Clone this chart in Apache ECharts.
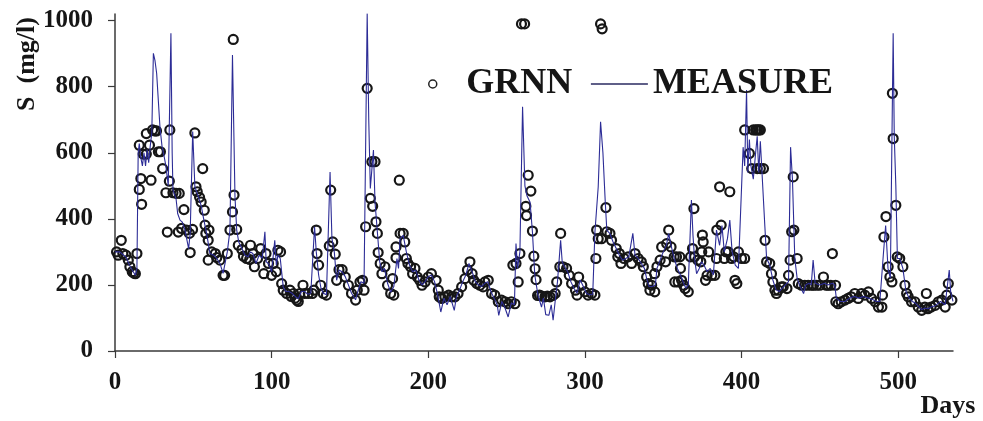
<!DOCTYPE html>
<html>
<head>
<meta charset="utf-8">
<script src="https://cdn.jsdelivr.net/npm/echarts@6/dist/echarts.min.js"></script>
<style>
  html, body { margin: 0; padding: 0; background: #fff; }
  #chart { width: 983px; height: 421px; }
</style>
</head>
<body>
<div id="chart"></div>
<script>
// Tick values shown on each axis
const xTicks = [0, 100, 200, 300, 400, 500];
const yTicks = [0, 200, 400, 600, 800, 1000];

// GRNN predictions: [day, S (mg/l)]
const grnn = [
  [1,300],[2,290],[4,335],[5,295],[7,290],[8.5,275],[9.5,255],[11,240],[12,236],[13,234],[14,295],
  [15.5,489],[15.5,623],[16.5,522],[17,444],[18,596],[20,596],[20,658],[22,623],[23,517],[24,669],
  [25.5,666],[26.5,666],[27.7,603],[29,603],[30.4,552],[32.5,479],[33.4,360],[34.7,514],[35,669],
  [37,479],[39,477],[40.4,360],[41,477],[42.5,371],[44,428],[45.7,366],[47.5,356],[48,298],[49.5,368],
  [51,660],[51.7,497],[52.5,482],[54,465],[55,451],[56,552],[57,426],[57.5,381],[58,356],[59.5,275],
  [59.5,335],[60,366],[61.7,300],[64,295],[65,283],[67,275],[69,229],[70,229],[71.7,295],[73.4,366],
  [75,421],[75.5,943],[76,472],[77.7,368],[78.7,320],[81,307],[82,287],[84,280],[86,277],
  [86.5,320],[88,295],[89,255],[91,280],[93,310],[95,234],[96.4,295],[98,265],[100,229],[101,265],
  [103,240],[104,305],[105.7,300],[106.4,204],[107.4,184],[109.6,174],[111.7,184],[112.5,165],[114,174],
  [115,160],[116,154],[117,150],[118,174],[120,199],[121,174],[123.4,174],[126,174],[127,184],[128.5,366],
  [129,295],[130,260],[131.3,199],[133,174],[135,169],[136.8,318],[137.7,487],[139,330],[140.6,293],
  [141.5,214],[143,246],[145,246],[147,224],[149,199],[151,174],[153.6,154],[154.7,184],[156.4,209],
  [158,214],[159,184],[160,376],[161,795],[163,462],[164,573],[164.5,438],[166,573],[166.6,391],
  [167.5,356],[168,298],[169.3,265],[170.4,234],[172.3,255],[174,199],[176,174],
  [177.2,219],[178,169],[179.4,315],[179.4,282],[181.5,517],[182,356],[184,356],[185,330],[186,280],
  [187,265],[188.7,255],[190,234],[191.5,250],[193,224],[194.5,214],[196,199],[198,209],[200,224],
  [202,234],[205,214],[206.4,184],[207,164],[208.5,159],[210.6,164],[213,169],[215,164],[217,164],
  [219,174],[221.3,194],[223.4,219],[225,245],[226.6,270],[228,234],[229,214],[231,204],[233,199],
  [235,194],[236.2,209],[238.3,214],[240.4,174],[242.5,169],[244.7,149],[246.8,154],[249,149],
  [251,143],[253,149],[254,260],[255.3,143],[256,265],[257.4,209],[258.5,295],[259.5,990],[261.5,990],
  [262.3,438],[262.7,410],[263.8,532],[265.5,484],[266.5,363],[267.4,287],[268.2,249],[268.8,216],
  [269.8,168],[271,169],[272.5,166],[274.5,164],[276,166],[277.7,164],[279.5,168],[281,174],[282,209],
  [284,255],[284.5,356],[286,255],[288.3,250],[290,229],[291.5,204],[294,184],[295,169],[296,224],
  [298,199],[300,179],[302,169],[304.3,174],[306.4,169],[307,280],[307.5,366],[308.5,340],[310,990],
  [311,975],[310.6,340],[313.4,434],[314,361],[316,356],[317,335],[320,310],[321,285],[322,295],
  [323,265],[325,280],[327.6,285],[329.8,265],[332,295],[334,280],[336,270],[337.3,255],[339.4,224],
  [340.4,204],[341.5,184],[342.6,199],[344.6,179],[344.5,234],[346,255],[348,275],[349,315],[351.5,270],
  [352.2,325],[353.5,366],
  [355,315],[357,285],[357.4,209],[358.5,285],[359.5,209],[360.6,285],[361,250],[361.7,214],[363,199],
  [364,189],[366,179],[367.4,285],[368.7,310],[369.6,431],[370,285],[372,275],[374,270],[374.6,300],
  [375,351],[375.5,330],[377,214],[378,229],[379,300],[381,229],[383,229],[384,280],[384.2,366],
  [386,497],[387,381],[389,280],[390,300],[391.5,300],[392.5,482],[393.6,280],[395,285],[395.8,214],
  [397,204],[398,300],[400,280],[402,280],[402,669],[405,598],[406.5,552],[407.5,669],[409,669],
  [410,669],[411,669],[412,669],[410,552],[412,552],[414,552],[415,335],[416,270],[418,265],[419.1,234],
  [420,209],[421.3,184],[422.3,174],[423.4,184],[425.5,194],[426.6,194],[429,189],[430,229],[431,275],
  [432,361],[433,527],[433.4,366],[435.5,280],[436.2,204],[438.3,199],[440.4,199],[442.5,199],[444.7,199],
  [446,199],[448,199],[450,199],[452.3,224],[454,199],[455.3,199],[457,199],[458,295],[460,199],
  [460.2,149],[461.7,143],[463.6,149],[466,154],[468,159],[470,164],[472.3,174],[474.5,159],[476.6,174],
  [478.7,169],[481,179],[483,159],[485.3,149],[487.4,133],[489.6,133],[490,169],[490.9,345],[492.2,407],
  [493.6,255],[494.7,224],[496,209],[496.3,780],[496.8,643],[498.5,441],[499.4,285],[501,280],[503,255],
  [504.3,199],[505.4,174],[506.4,164],[508.5,149],[510.6,149],[512.8,133],[515,123],[517,133],[518,174],
  [519,128],[521,133],[523.6,138],[525.7,149],[527.8,154],[530,133],[531,169],[532,204],[534.3,154],
  [535.3,133]
];

// Measured values: [day, S (mg/l)]
const measure = [
  [0,300],[1,300],[3,300],[5,292],[7,285],[9,262],[11,245],[13,229],[14,250],[14.8,600],[15.5,628],
  [16.5,585],[17.5,560],[18.5,600],[19.5,560],[20.5,610],[21.5,570],[22.5,620],[23.5,660],[24.5,901],
  [25.5,880],[26.6,840],[28.7,678],[30,620],[31,598],[32.5,560],[34,500],[35.7,962],[36.5,600],[37,487],
  [39,460],[40,416],[41.5,396],[43,390],[44.7,366],[47,310],[48,356],[49.6,664],[51,497],[53,470],
  [55,440],[57,390],[58.5,356],[60.6,295],[63,290],[65,280],[67,265],[69,235],[70,229],[71.7,300],
  [73.4,366],[75,896],[76.6,467],[77.7,366],[79,330],[81,310],[83,290],[85,285],[86.5,300],[88,295],
  [90,265],[92,290],[94,280],[95.7,361],[96.5,270],[98,265],[100,240],[102,335],[103,260],[104,290],
  [105.5,280],[107.4,194],[109,180],[111,180],[113,175],[115,165],[117,158],[119,180],[121,180],
  [123,172],[125,175],[127.4,376],[128.5,300],[130,230],[131.5,190],[133,175],[135,170],[137.3,542],
  [138.5,340],[140,300],[141.5,214],[143,245],[145,240],[147,225],[149,200],[151,175],[153.6,155],
  [155,180],[157,210],[159,205],[160,210],[161,1022],[162,700],[163,492],[165,608],[166,450],[167.5,360],
  [169,270],[170.4,240],[172,250],[174,205],[176,178],[178,195],[180,280],[181,250],[182,340],[184,350],
  [186,300],[188,260],[190,240],[192,245],[194,215],[196,200],[198,210],[200,225],[202,230],[204,210],
  [206,170],[208,118],[210,160],[212,140],[214,165],[216.6,123],[218,165],[220,185],[222,210],[224,230],
  [226,265],[228,240],[230,210],[232,200],[234,195],[236,205],[238,210],[240,180],[242,160],[244,140],
  [245,108],[247,150],[249,130],[251,103],[253,145],[255,140],[256,325],[257,250],[258.5,300],
  [260.2,739],[261.7,500],[263,470],[265,450],[266.5,360],[268,230],[270,170],[272.3,133],[273.5,160],
  [275,110],[277,108],[278.5,140],[279.7,93],[281,150],[282.5,210],[284.5,335],[285.5,270],[287,255],
  [289,240],[291,210],[293,190],[295,175],[297,215],[299,195],[301,175],[303,170],[305,172],[306.4,360],
  [308.5,497],[310,694],[311.5,600],[313,450],[314,365],[316,355],[318,330],[320,310],[322,290],
  [324,275],[326,280],[328,285],[330.6,356],[332,290],[334,280],[336,265],[338,250],[339.4,220],
  [341,195],[343,195],[345,200],[346,250],[348,275],[350,300],[352,320],[353.5,355],[355,320],[357,280],
  [359,250],[361,230],[363,205],[364.5,190],[366,200],[368,457],[369,350],[370,280],[371.3,234],
  [373,250],[374.5,270],[376,260],[378,240],[380,250],[382,230],[384,366],[386,320],[387.5,380],
  [389,300],[391,340],[392.5,396],[394,300],[396,260],[398,250],[399,245],[401,617],[402,560],
  [403.2,790],[404,540],[405,640],[406,560],[407.5,520],[409,600],[410,650],[411,540],[412,635],
  [413,640],[414.9,376],[416,280],[418,260],[420,215],[422,185],[424,180],[426,190],[428,200],[430,210],
  [431.3,617],[432.5,520],[434,280],[435.5,220],[437,200],[439.6,174],[441,200],[443,205],[444.5,200],
  [445.7,275],[447,205],[450,200],[453,205],[455,200],[458,205],[459.5,200],[460.5,160],[463,150],
  [466,150],[469,160],[472,165],[475,160],[478,165],[481,160],[484,155],[486,150],[488.3,150],
  [490.5,290],[492,380],[493.5,250],[495,220],[496.8,962],[497.5,650],[498.5,500],[499.5,280],[501,280],
  [503,250],[505,180],[507,160],[509,150],[511,145],[513,135],[515,125],[517,130],[519,128],[521,133],
  [524,138],[527,150],[530,140],[532.6,245],[533.5,180],[535,150]
];

const serif = '"Liberation Serif", "Times New Roman", serif';
const axisColor = '#3a3a3a';
const plainNumber = v => String(v);

const chart = echarts.init(document.getElementById('chart'), null, { renderer: 'canvas' });

chart.setOption({
  backgroundColor: '#ffffff',
  animation: false,
  grid: { left: 115, right: 30, top: 14, bottom: 70, containLabel: false },
  legend: {
    left: 423,
    top: 61,
    itemWidth: 57,
    itemHeight: 8,
    itemGap: 18,
    textStyle: { fontFamily: serif, fontWeight: 'bold', fontSize: 36, color: '#151515' },
    data: [
      { name: 'GRNN', icon: 'circle',
        itemStyle: { color: '#ffffff', borderColor: '#222', borderWidth: 1.5 } },
      { name: 'MEASURE',
        itemStyle: { color: 'rgba(0,0,0,0)', borderColor: 'rgba(0,0,0,0)', borderWidth: 0, opacity: 0 },
        lineStyle: { color: '#2a2a60', width: 1.3, opacity: 1 } }
    ]
  },
  xAxis: {
    type: 'value',
    min: 0,
    max: 535,
    interval: 100,
    splitLine: { show: false },
    axisLine: { lineStyle: { color: axisColor, width: 1.5 } },
    axisTick: { length: 7, lineStyle: { color: axisColor, width: 1.2 }, customValues: xTicks },
    axisLabel: {
      customValues: xTicks,
      formatter: plainNumber,
      margin: 19,
      fontFamily: serif, fontWeight: 'bold', fontSize: 25, color: '#151515'
    }
  },
  yAxis: {
    type: 'value',
    min: 0,
    max: 1020,
    interval: 200,
    splitLine: { show: false },
    axisLine: { show: true, lineStyle: { color: axisColor, width: 1.5 } },
    axisTick: { show: true, length: 7, lineStyle: { color: axisColor, width: 1.2 }, customValues: yTicks },
    axisLabel: {
      customValues: yTicks,
      formatter: plainNumber,
      margin: 22,
      fontFamily: serif, fontWeight: 'bold', fontSize: 25, color: '#151515'
    }
  },
  graphic: [
    {
      type: 'text', x: 27, y: 64, rotation: Math.PI / 2,
      style: {
        text: 'S  (mg/l)', align: 'center', verticalAlign: 'middle',
        font: 'bold 26px ' + serif, fill: '#151515'
      }
    },
    {
      type: 'text', x: 948, y: 406,
      style: {
        text: 'Days', align: 'center', verticalAlign: 'middle',
        font: 'bold 26px ' + serif, fill: '#151515'
      }
    }
  ],
  series: [
    {
      name: 'GRNN',
      type: 'scatter',
      data: grnn,
      symbol: 'circle',
      symbolSize: 9,
      z: 2,
      itemStyle: { color: 'rgba(255,255,255,0)', borderColor: '#161616', borderWidth: 2.2, opacity: 1 }
    },
    {
      name: 'MEASURE',
      type: 'line',
      data: measure,
      showSymbol: false,
      symbol: 'none',
      z: 3,
      lineStyle: { color: '#2c2c96', width: 1.1 }
    }
  ]
});
</script>
</body>
</html>
